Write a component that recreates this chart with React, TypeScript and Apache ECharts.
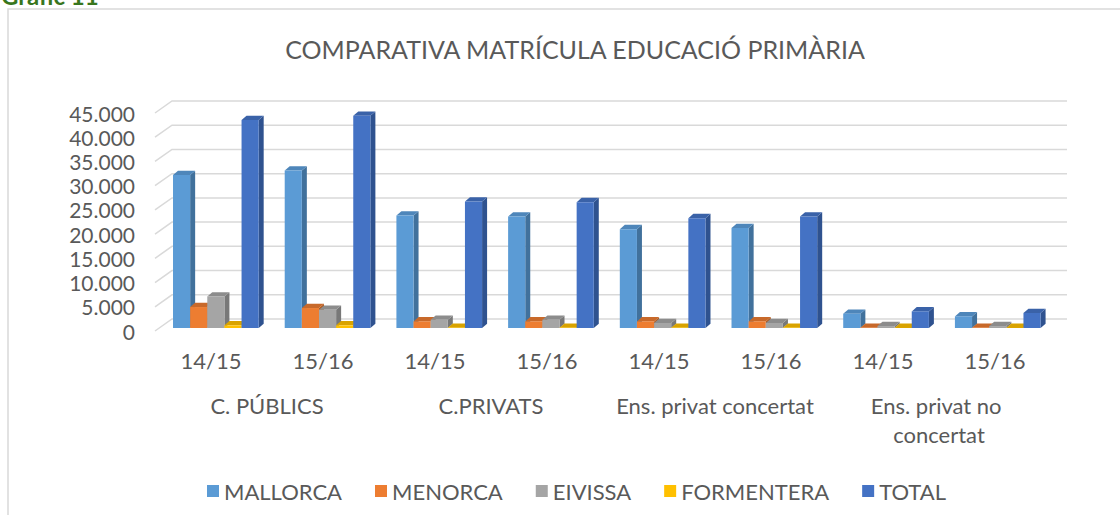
import React, { useEffect, useRef } from 'react';
import * as echarts from 'echarts';

const years = ['14/15', '15/16', '14/15', '15/16', '14/15', '15/16', '14/15', '15/16'];
const groups = ['C. PÚBLICS', 'C.PRIVATS', 'Ens. privat concertat', 'Ens. privat no concertat'];
const seriesNames = ['MALLORCA', 'MENORCA', 'EIVISSA', 'FORMENTERA', 'TOTAL'];
const mallorca = [31540, 32430, 23170, 22960, 20370, 20580, 2940, 2390];
const menorca = [4320, 4115, 1360, 1360, 1360, 1360, 60, 60];
const eivissa = [6500, 3765, 1710, 1710, 1030, 1030, 400, 400];
const formentera = [550, 550, 60, 60, 60, 60, 20, 20];
const total = [42860, 43740, 26050, 25930, 22630, 22960, 3420, 3090];
const yTicks = [0, 5000, 10000, 15000, 20000, 25000, 30000, 35000, 40000, 45000];

const seriesValues = [mallorca, menorca, eivissa, formentera, total];
const frontColors = ['#5B9BD5', '#ED7D31', '#A5A5A5', '#FFC000', '#4472C4'];
const sideColors = ['#41719C', '#AE5A21', '#787878', '#BC8C00', '#2F528F'];
const topColors = ['#4E86BA', '#C8692A', '#8C8C8C', '#D9A300', '#3A62A8'];

const FONT = 'Lato';
const TXT = '#595959';

const fmt = (v: number) => String(v).replace(/\B(?=(\d{3})+(?!\d))/g, '.');

export default function App() {
  const ref = useRef<HTMLDivElement>(null);
  useEffect(() => {
    if (!ref.current) return;
    const chart = echarts.init(ref.current, undefined, { renderer: 'svg' });
    const barSeries = seriesValues.map((vals, s) => ({
      type: 'custom',
      name: seriesNames[s],
      xAxisIndex: 2,
      yAxisIndex: 1,
      itemStyle: { color: frontColors[s] },
      data: vals.map((v, i) => [i, v]),
      renderItem: (params: any, api: any) => {
        const i = api.value(0);
        const v = api.value(1);
        const pTop = api.coord([i, v]);
        const pBase = api.coord([i, 0]);
        const band = api.size([1, 0])[0];
        const cluster = band * 0.767;
        const bw = cluster / 5;
        const x = pTop[0] - cluster / 2 + s * bw;
        const yt = pTop[1];
        const yb = pBase[1];
        const dx = 5;
        const dy = 4.3;
        return {
          type: 'group',
          children: [
            {
              type: 'polygon',
              shape: { points: [[x + bw, yt], [x + bw + dx, yt - dy], [x + bw + dx, yb - dy], [x + bw, yb]] },
              style: { fill: sideColors[s] },
            },
            {
              type: 'polygon',
              shape: { points: [[x, yt], [x + dx, yt - dy], [x + bw + dx, yt - dy], [x + bw, yt]] },
              style: { fill: topColors[s] },
            },
            {
              type: 'rect',
              shape: { x, y: yt, width: bw, height: Math.max(yb - yt, 0) },
              style: { fill: frontColors[s] },
            },
          ],
        };
      },
    }));

    const gridSeries = {
      type: 'custom',
      name: 'grid',
      xAxisIndex: 0,
      yAxisIndex: 0,
      silent: true,
      z: 1,
      data: yTicks.map((v) => [0, v]),
      renderItem: (params: any, api: any) => {
        const v = api.value(1);
        const y = api.coord([0, v])[1];
        const cs = params.coordSys;
        const x0 = cs.x;
        return {
          type: 'polyline',
          shape: { points: [[x0, y], [x0 + 17, y - 12], [x0 + 17 + cs.width - 1, y - 12]] },
          style: { stroke: '#D9D9D9', lineWidth: 1.5, fill: null },
        };
      },
    };

    chart.setOption({
      animation: false,
      textStyle: { fontFamily: FONT },
      title: {
        text: 'COMPARATIVA MATRÍCULA EDUCACIÓ PRIMÀRIA',
        left: 570,
        textAlign: 'center',
        top: 31,
        textStyle: { fontFamily: FONT, fontSize: 25, fontWeight: 'normal', color: TXT },
      },
      graphic: [
        {
          type: 'rect',
          shape: { x: 8, y: 9, width: 1130, height: 530 },
          style: { fill: 'none', stroke: '#D9D9D9', lineWidth: 1.5 },
          silent: true,
        },
        {
          type: 'text',
          x: 1,
          y: 7,
          style: {
            text: 'Gràfic 11',
            fontFamily: FONT,
            fontSize: 24,
            fontWeight: 'bold',
            fill: '#38761D',
            verticalAlign: 'bottom',
          },
          silent: true,
        },
      ],
      legend: {
        data: seriesNames,
        left: 202,
        top: 475,
        icon: 'rect',
        itemWidth: 12,
        itemHeight: 12,
        itemGap: 33,
        textStyle: { fontFamily: FONT, fontSize: 22, color: TXT },
      },
      grid: [
        { left: 155, top: 113, width: 896, height: 218 },
        { left: 160, top: 109.6, width: 893.6, height: 218.4 },
      ],
      xAxis: [
        {
          type: 'category',
          gridIndex: 0,
          data: years,
          axisLine: { show: false },
          axisTick: { show: false },
          axisLabel: { fontFamily: FONT, fontSize: 22, color: TXT, margin: 16, lineHeight: 26 },
        },
        {
          type: 'category',
          gridIndex: 0,
          data: groups,
          position: 'bottom',
          offset: 45,
          axisLine: { show: false },
          axisTick: { show: false },
          axisLabel: {
            fontFamily: FONT,
            fontSize: 22,
            color: TXT,
            margin: 14.5,
            lineHeight: 29,
            width: 215,
            overflow: 'break',
            interval: 0,
          },
        },
        {
          type: 'category',
          gridIndex: 1,
          data: years.map((_, i) => String(i)),
          show: false,
        },
      ],
      yAxis: [
        {
          type: 'value',
          gridIndex: 0,
          min: 0,
          max: 45000,
          interval: 5000,
          axisLine: { show: false },
          axisTick: { show: false },
          splitLine: { show: false },
          axisLabel: { fontFamily: FONT, fontSize: 21, color: TXT, margin: 20, formatter: (v: number) => fmt(v) },
        },
        {
          type: 'value',
          gridIndex: 1,
          min: 0,
          max: 45000,
          interval: 5000,
          show: false,
          splitLine: { show: false },
        },
      ],
      series: [gridSeries, ...barSeries],
    });
    return () => chart.dispose();
  }, []);
  return (
    <div
      ref={ref}
      style={{ position: 'absolute', left: 0, top: 0, width: 1120, height: 515, background: '#fff' }}
    />
  );
}
